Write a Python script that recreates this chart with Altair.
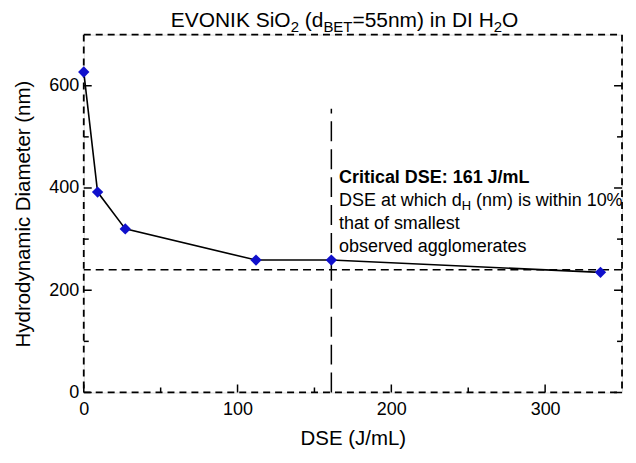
import altair as alt
import pandas as pd

# ---- data ----
dse = [0, 9, 27, 112, 161, 336]
dh = [627, 392, 320, 259, 259, 235]
x_major = [0, 100, 200, 300]
x_minor = [50, 150, 250]
y_major = [0, 200, 400, 600]
y_minor = [100, 300, 500]
critical_dse = [161]
critical_top = [555]
threshold_dh = [240]
x_domain = [0, 350]
y_domain = [0, 700]

# (text, is_subscript, leading space)
title_pieces = [("EVONIK SiO", False, False), ("2", True, False), ("(d", False, True),
                ("BET", True, False), ("=55nm) in DI H", False, False), ("2", True, False),
                ("O", False, False)]
ann_line1 = "Critical DSE: 161 J/mL"
ann_line2 = [("DSE at which d", False, False), ("H", True, False),
             ("(nm) is within 10%", False, True)]
ann_line3 = "that of smallest"
ann_line4 = "observed agglomerates"
ann_x = 166
ann_y = [420, 375, 330, 284]

# ---- layout / style ----
W, H = 540, 359
FONT = "Liberation Sans"
TICK_FS = 18
AX_TITLE_FS = 20.5
TITLE_FS = 21
SUB_FS = 15
ANN_FS = 18
ANN_SUB_FS = 13
BORDER_DASH = [7, 5]

# Arial/Liberation Sans advance widths (per 1000 em)
AW = {' ': 278, '(': 333, ')': 333, '=': 584, '%': 889, ':': 278, '/': 278,
      'A': 667, 'B': 667, 'C': 722, 'D': 722, 'E': 667, 'H': 722, 'I': 278, 'J': 500,
      'K': 667, 'L': 556, 'N': 722, 'O': 778, 'S': 667, 'T': 611, 'V': 667,
      'a': 556, 'b': 556, 'c': 500, 'd': 556, 'e': 556, 'f': 278, 'g': 556, 'h': 556,
      'i': 222, 'k': 500, 'l': 222, 'm': 833, 'n': 556, 'o': 556, 'p': 556, 'r': 333,
      's': 500, 't': 278, 'u': 556, 'v': 500, 'w': 722, 'x': 500, 'y': 500}
for d in "0123456789":
    AW[d] = 556


def tw(s, fs):
    return sum(AW.get(c, 556) for c in s) * fs / 1000.0


df = pd.DataFrame({"DSE": dse, "dH": dh})
xs = alt.Scale(domain=x_domain, nice=False, zero=False)
ys = alt.Scale(domain=y_domain, nice=False, zero=False)

xaxis = alt.Axis(values=x_major, title="DSE (J/mL)", ticks=False, domain=False, grid=False,
                 labelFontSize=TICK_FS, labelFont=FONT, labelColor="black", labelPadding=8,
                 labelFlush=False, labelOverlap=False,
                 titleFontSize=AX_TITLE_FS, titleFont=FONT, titleFontWeight="normal",
                 titleColor="black", titlePadding=10)
yaxis = alt.Axis(values=y_major, title="Hydrodynamic Diameter (nm)", ticks=False, domain=False,
                 grid=False, labelFontSize=TICK_FS, labelFont=FONT, labelColor="black",
                 labelPadding=5, labelFlush=False, labelOverlap=False,
                 titleFontSize=AX_TITLE_FS, titleFont=FONT, titleFontWeight="normal",
                 titleColor="black", titlePadding=15)


def X(f):
    return alt.X(f, type="quantitative", scale=xs, axis=xaxis)


def Y(f):
    return alt.Y(f, type="quantitative", scale=ys, axis=yaxis)


def one(v=0):
    return pd.DataFrame({"d": [v]})


line = alt.Chart(df).mark_line(color="black", strokeWidth=1.6).encode(x=X("DSE"), y=Y("dH"))
pts = alt.Chart(df).mark_point(shape="diamond", filled=True, size=130, color="#1010cc",
                               opacity=1).encode(x=X("DSE"), y=Y("dH"))

thr = alt.Chart(pd.DataFrame({"v": threshold_dh})).mark_rule(
    color="black", strokeWidth=1.5, strokeDash=[8, 5]).encode(y=Y("v"))
crit = alt.Chart(pd.DataFrame({"x": critical_dse, "y2": critical_top, "y0": [0]})).mark_rule(
    color="black", strokeWidth=1.5, strokeDash=[20, 8]).encode(x=X("x"), y=Y("y0"), y2="y2")

# dashed frame
frame = []
for enc in [dict(x=alt.value(0), x2=alt.value(W), y=alt.value(0)),
            dict(x=alt.value(0), x2=alt.value(W), y=alt.value(H)),
            dict(y=alt.value(0), y2=alt.value(H), x=alt.value(0)),
            dict(y=alt.value(0), y2=alt.value(H), x=alt.value(W))]:
    frame.append(alt.Chart(one()).mark_rule(color="black", strokeWidth=1.8,
                                            strokeDash=BORDER_DASH).encode(**enc))

layers = frame + [thr, crit, line, pts]

# inward ticks
for vals, ln in [(x_major, 8), (x_minor, 5)]:
    layers.append(alt.Chart(pd.DataFrame({"v": vals})).mark_rule(color="black", strokeWidth=1.5)
                  .encode(x=X("v"), y=alt.value(H), y2=alt.value(H - ln)))
for vals, ln in [(y_major, 8), (y_minor, 5)]:
    d = pd.DataFrame({"v": vals})
    layers.append(alt.Chart(d).mark_rule(color="black", strokeWidth=1.5)
                  .encode(y=Y("v"), x=alt.value(0), x2=alt.value(ln)))
    layers.append(alt.Chart(d).mark_rule(color="black", strokeWidth=1.5)
                  .encode(y=Y("v"), x=alt.value(W), x2=alt.value(W - ln)))


# annotation
def ann(text, yv, bold=False, dx=0, dy=0, fs=ANN_FS):
    return alt.Chart(pd.DataFrame({"x": [ann_x], "y": [yv], "t": [text]})).mark_text(
        align="left", baseline="middle", font=FONT, fontSize=fs,
        fontWeight="bold" if bold else "normal", color="black", dx=dx, dy=dy
    ).encode(x=X("x"), y=Y("y"), text="t:N")


layers.append(ann(ann_line1, ann_y[0], bold=True))
off = 0
for s, sub, lead in ann_line2:
    fs = ANN_SUB_FS if sub else ANN_FS
    if lead:
        off += tw(" ", fs)
    layers.append(ann(s, ann_y[1], dx=off, dy=5 if sub else 0, fs=fs))
    off += tw(s, fs)
layers.append(ann(ann_line3, ann_y[2]))
layers.append(ann(ann_line4, ann_y[3]))

# title built from pieces (for subscripts)
total = sum(tw((" " if lead else "") + s, SUB_FS if sub else TITLE_FS)
            for s, sub, lead in title_pieces)
cx = 345 - 83.3
px = cx - total / 2
for s, sub, lead in title_pieces:
    fs = SUB_FS if sub else TITLE_FS
    if lead:
        px += tw(" ", fs)
    layers.append(alt.Chart(pd.DataFrame({"t": [s]})).mark_text(
        align="left", baseline="alphabetic", font=FONT, fontSize=fs, color="black"
    ).encode(x=alt.value(px), y=alt.value(-8 + (5 if sub else 0)), text="t:N"))
    px += tw(s, fs)

chart = alt.layer(*layers).properties(
    width=W, height=H,
    padding={"left": 5, "top": 1, "right": 5, "bottom": 2},
).configure_view(
    strokeWidth=0
).configure(background="white")

chart.save("out.html", embed_options={"renderer": "svg", "actions": False})
